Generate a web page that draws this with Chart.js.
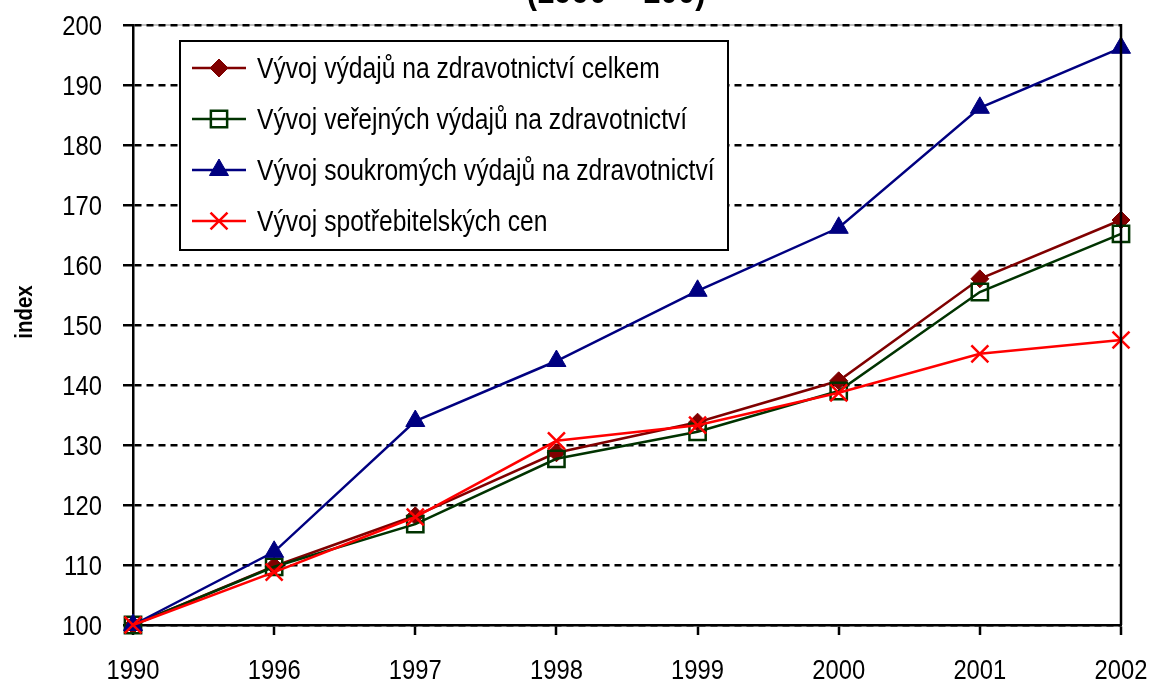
<!DOCTYPE html>
<html>
<head>
<meta charset="utf-8">
<script src="https://cdn.jsdelivr.net/npm/chart.js@4.4.0/dist/chart.umd.min.js"></script>
<style>
  html, body { margin: 0; padding: 0; background: #fff; }
</style>
</head>
<body>
<canvas id="chart" width="1150" height="682"></canvas>
<script>
// Data (index, 1990 = 100)
const years = ['1990', '1996', '1997', '1998', '1999', '2000', '2001', '2002'];
const celkem = [100, 109.8, 118.2, 128.7, 133.8, 140.7, 157.7, 167.5];
const verejne = [100, 109.7, 116.8, 127.7, 132.2, 139.0, 155.5, 165.2];
const soukrome = [100, 112.2, 134.0, 144.0, 155.7, 166.2, 186.2, 196.2];
const ceny = [100, 108.8, 118.0, 130.7, 133.3, 138.7, 145.2, 147.5];

const FONT = "'Liberation Sans', Arial, sans-serif";
const SX = 0.85; // the original uses a narrow face, so squeeze text horizontally

function narrowText(ctx, text, x, y, align, rot) {
    ctx.save();
    ctx.translate(x, y);
    if (rot) ctx.rotate(rot);
    ctx.scale(SX, 1);
    ctx.textAlign = align;
    ctx.fillText(text, 0, 0);
    ctx.restore();
}

// tick labels, axis title and the clipped chart title
const textPlugin = {
    id: 'texts',
    afterDraw(chart) {
        const { ctx, scales: { x, y } } = chart;
        ctx.save();
        ctx.fillStyle = '#000';
        ctx.textBaseline = 'alphabetic';
        ctx.font = '28px ' + FONT;
        x.ticks.forEach((t, i) => {
            narrowText(ctx, x.getLabelForValue(t.value), x.getPixelForTick(i), x.top + 54, 'center');
        });
        y.ticks.forEach((t, i) => {
            narrowText(ctx, String(t.value), y.right - 31, y.getPixelForTick(i) + 10, 'right');
        });

        ctx.font = 'bold 24px ' + FONT;
        narrowText(ctx, 'index', 32, 312, 'center', -Math.PI / 2);

        ctx.font = 'bold 37px ' + FONT;
        narrowText(ctx, '(1990 = 100)', 616, 3, 'center');
        ctx.restore();
    }
};

// frame: grey top line under the gridline, black right border
const framePlugin = {
    id: 'frame',
    beforeDraw(chart) {
        const { ctx, chartArea: a } = chart;
        ctx.save();
        ctx.strokeStyle = '#c0c0c0';
        ctx.lineWidth = 2;
        ctx.beginPath();
        ctx.moveTo(a.left, a.top);
        ctx.lineTo(a.right, a.top);
        ctx.stroke();
        ctx.restore();
    },
    afterDatasetsDraw(chart) {
        const { ctx, chartArea: a } = chart;
        ctx.save();
        ctx.strokeStyle = '#000';
        ctx.lineWidth = 2.5;
        ctx.beginPath();
        ctx.moveTo(a.right, a.top - 1);
        ctx.lineTo(a.right, a.bottom);
        ctx.stroke();
        ctx.restore();
    }
};

// boxed legend inside the plot
const boxLegend = {
    id: 'boxLegend',
    afterDatasetsDraw(chart) {
        const ctx = chart.ctx;
        const box = { x: 180, y: 41, w: 548, h: 209 };
        ctx.save();
        ctx.fillStyle = '#fff';
        ctx.fillRect(box.x, box.y, box.w, box.h);
        ctx.strokeStyle = '#000';
        ctx.lineWidth = 2;
        ctx.strokeRect(box.x, box.y, box.w, box.h);

        ctx.font = '29px ' + FONT;
        ctx.textBaseline = 'alphabetic';
        chart.data.datasets.forEach((ds, i) => {
            const y = 68 + i * 51;
            ctx.strokeStyle = ds.borderColor;
            ctx.lineWidth = ds.borderWidth;
            ctx.beginPath();
            ctx.moveTo(192, y);
            ctx.lineTo(246, y);
            ctx.stroke();

            ctx.fillStyle = ds.pointBackgroundColor;
            ctx.strokeStyle = ds.pointBorderColor;
            ctx.lineWidth = ds.pointBorderWidth;
            Chart.helpers.drawPoint(ctx, {
                pointStyle: ds.pointStyle,
                radius: ds.pointRadius,
                rotation: 0,
                borderWidth: ds.pointBorderWidth
            }, 219, y);

            ctx.fillStyle = '#000';
            narrowText(ctx, ds.label, 257, y + 10, 'left');
        });
        ctx.restore();
    }
};

const ctx = document.getElementById('chart').getContext('2d');
new Chart(ctx, {
    type: 'line',
    data: {
        labels: years,
        datasets: [
            {
                label: 'Vývoj výdajů na zdravotnictví celkem',
                data: celkem,
                borderColor: '#800000',
                borderWidth: 2.5,
                pointStyle: 'rectRot',
                pointRadius: 9,
                pointBackgroundColor: '#800000',
                pointBorderColor: '#800000',
                pointBorderWidth: 1,
                order: 4,
                clip: false
            },
            {
                label: 'Vývoj veřejných výdajů na zdravotnictví',
                data: verejne,
                borderColor: '#003300',
                borderWidth: 2.5,
                pointStyle: 'rect',
                pointRadius: 11.5,
                pointBackgroundColor: 'rgba(0,0,0,0)',
                pointBorderColor: '#003300',
                pointBorderWidth: 2.5,
                order: 3,
                clip: false
            },
            {
                label: 'Vývoj soukromých výdajů na zdravotnictví',
                data: soukrome,
                borderColor: '#000080',
                borderWidth: 2.5,
                pointStyle: 'triangle',
                pointRadius: 11,
                pointBackgroundColor: '#000080',
                pointBorderColor: '#000080',
                pointBorderWidth: 1,
                order: 2,
                clip: false
            },
            {
                label: 'Vývoj spotřebitelských cen',
                data: ceny,
                borderColor: '#ff0000',
                borderWidth: 2.5,
                pointStyle: 'crossRot',
                pointRadius: 12,
                pointBackgroundColor: '#ff0000',
                pointBorderColor: '#ff0000',
                pointBorderWidth: 2.5,
                order: 1,
                clip: false
            }
        ]
    },
    options: {
        responsive: false,
        devicePixelRatio: 1,
        animation: false,
        layout: { padding: { top: 25, right: 29, left: 0, bottom: 0 } },
        elements: { line: { tension: 0 } },
        plugins: {
            legend: { display: false },
            title: { display: false },
            tooltip: { enabled: false }
        },
        scales: {
            x: {
                offset: false,
                afterFit(scale) { scale.height = 57; },
                grid: {
                    drawOnChartArea: false,
                    drawTicks: true,
                    tickLength: 10,
                    tickWidth: 2.5,
                    tickColor: '#000',
                    lineWidth: 2,
                    color: '#000'
                },
                border: { display: true, color: '#000', width: 2.5 },
                ticks: { display: false, autoSkip: false }
            },
            y: {
                min: 100,
                max: 200,
                afterFit(scale) { scale.width = 133; },
                grid: {
                    color: '#000',
                    lineWidth: 2.5,
                    tickLength: 10,
                    tickWidth: 2.5,
                    tickColor: '#000'
                },
                border: { display: true, color: '#000', width: 2.5, dash: [7, 5] },
                ticks: { display: false, stepSize: 10 }
            }
        }
    },
    plugins: [framePlugin, boxLegend, textPlugin]
});
</script>
</body>
</html>
